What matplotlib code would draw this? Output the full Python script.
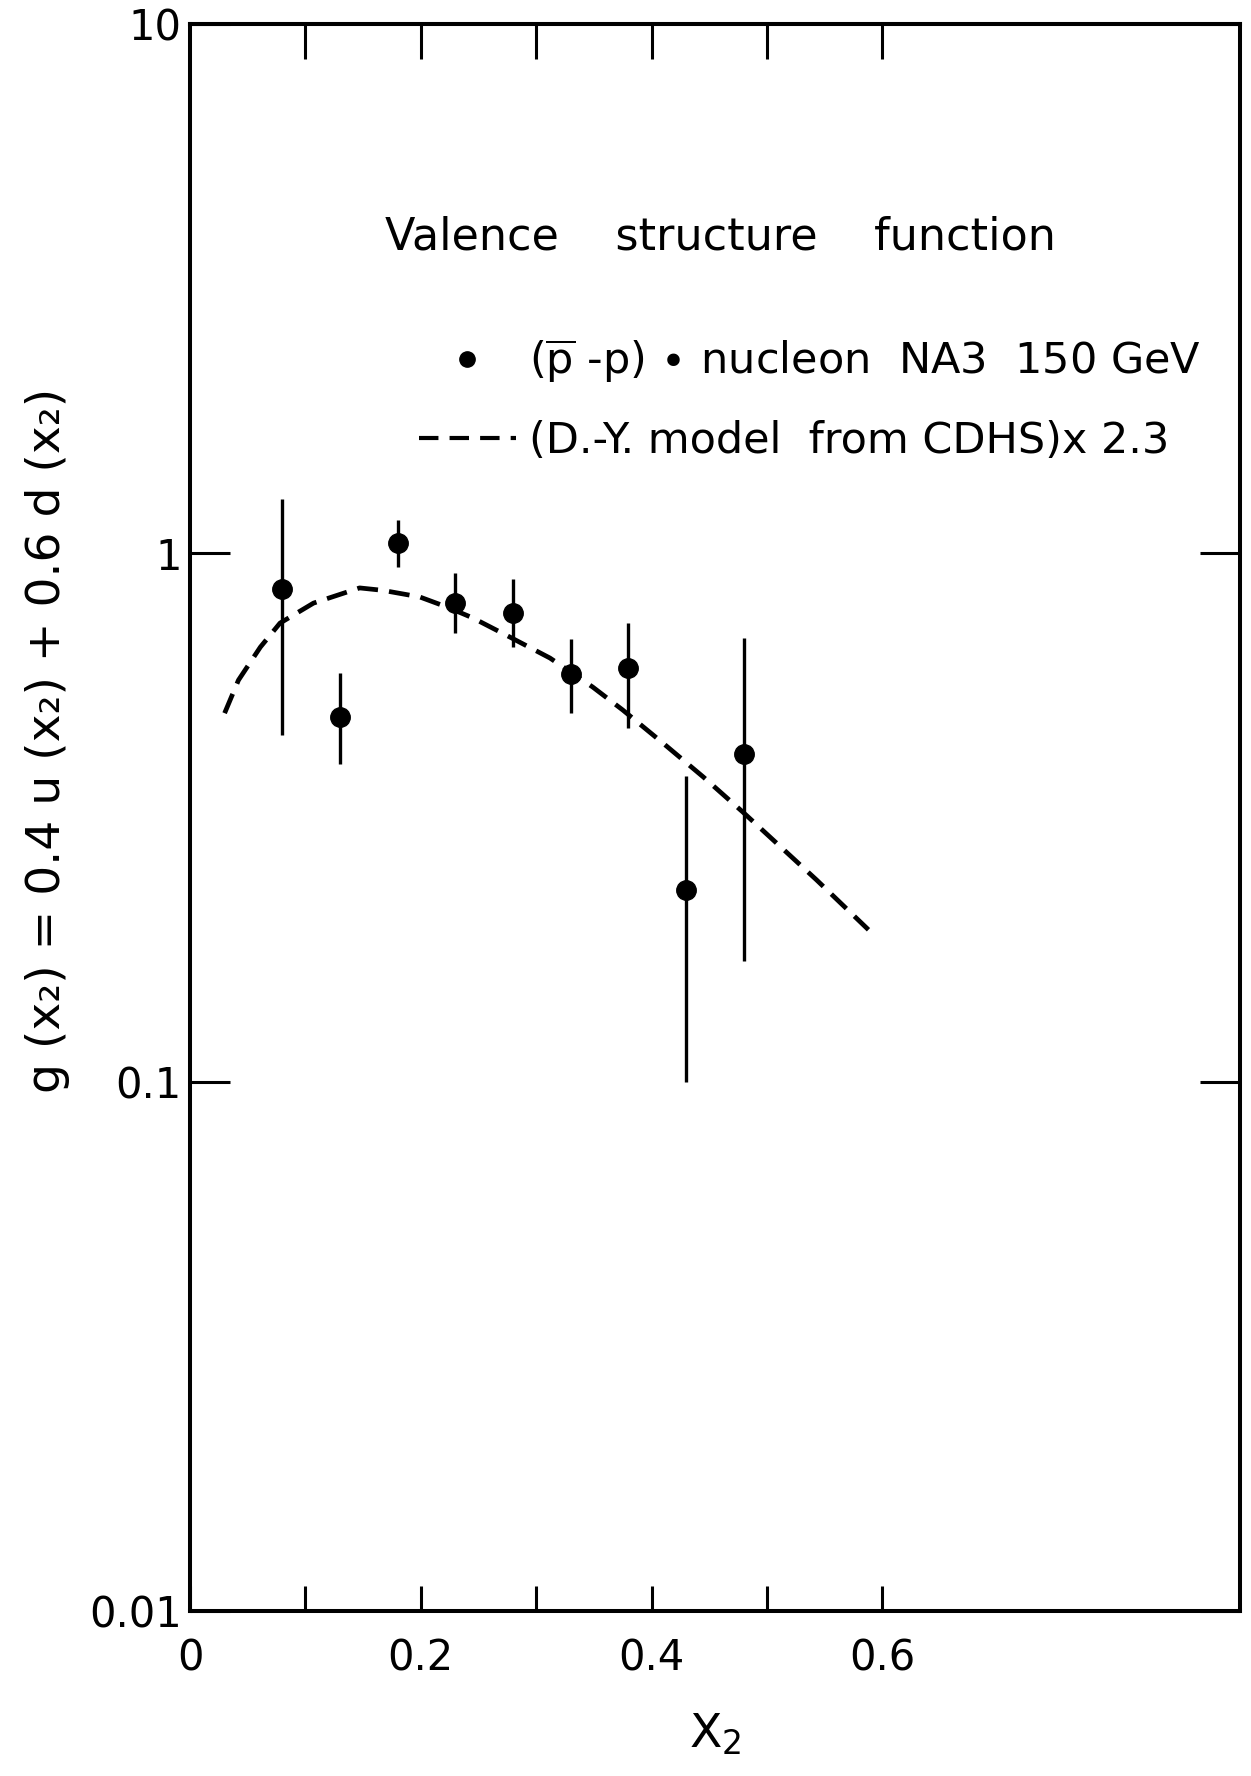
import matplotlib
matplotlib.use("Agg")
import matplotlib.pyplot as plt
from matplotlib.lines import Line2D
from matplotlib.ticker import NullLocator, FixedLocator
import numpy as np

plt.rcParams['font.family'] = ['DejaVu Sans']
plt.rcParams['mathtext.fontset'] = 'dejavusans'
plt.rcParams['lines.scale_dashes'] = False

# ---- data ----
x_data = [0.08, 0.13, 0.18, 0.23, 0.28, 0.33, 0.38, 0.43, 0.48]
g_data = [0.855, 0.490, 1.044, 0.804, 0.770, 0.591, 0.606, 0.231, 0.417]
g_low  = [0.453, 0.399, 0.941, 0.706, 0.664, 0.499, 0.467, 0.100, 0.169]
g_high = [1.265, 0.593, 1.154, 0.917, 0.893, 0.688, 0.737, 0.379, 0.691]

x_model = [0.030, 0.042, 0.061, 0.078, 0.107, 0.147, 0.167, 0.199, 0.223, 0.245,
           0.277, 0.312, 0.349, 0.375, 0.410, 0.445, 0.479, 0.543, 0.588]
g_model = [0.498, 0.575, 0.664, 0.737, 0.804, 0.859, 0.850, 0.826, 0.790, 0.754,
           0.694, 0.633, 0.558, 0.505, 0.437, 0.377, 0.324, 0.241, 0.194]

x_major = [0, 0.2, 0.4, 0.6]
x_major_labels = ['0', '0.2', '0.4', '0.6']
x_minor = [0.1, 0.3, 0.5]
x_top_ticks = [0.1, 0.2, 0.3, 0.4, 0.5, 0.6]
y_ticks = [0.01, 0.1, 1, 10]
y_tick_labels = ['0.01', '0.1', '1', '10']

W, H = 1251, 1776
fig = plt.figure(figsize=(W / 100, H / 100), dpi=100)
ax = fig.add_axes([190 / W, 1 - 1611 / H, 1050 / W, 1587 / H])

ax.set_yscale('log')
ax.set_xlim(0, 0.91)
ax.set_ylim(0.01, 10)

y = np.array(g_data)
yerr = [y - np.array(g_low), np.array(g_high) - y]
ax.errorbar(x_data, g_data, yerr=yerr, fmt='o', color='black', ms=14,
            elinewidth=2.4, capsize=0, zorder=3)
ax.plot(x_model, g_model, color='black', lw=3.4, dashes=(15, 8),
        solid_capstyle='butt', dash_capstyle='butt')

for s in ax.spines.values():
    s.set_linewidth(2.9)

ax.xaxis.set_major_locator(FixedLocator(x_major))
ax.set_xticklabels(x_major_labels)
ax.xaxis.set_minor_locator(FixedLocator(x_minor))
ax.tick_params(axis='x', which='both', direction='in', length=18, width=2.2,
               bottom=True, top=False, labelsize=30, pad=19)

secx = ax.secondary_xaxis('top')
secx.set_xticks(x_top_ticks)
secx.tick_params(axis='x', direction='in', length=25, width=2.2, labeltop=False)
secx.spines['top'].set_linewidth(2.9)

ax.set_yticks(y_ticks)
ax.set_yticklabels(y_tick_labels)
ax.yaxis.set_minor_locator(NullLocator())
ax.tick_params(axis='y', which='major', direction='in', length=29, width=2.2,
               left=True, right=True, labelsize=30, pad=6)

ax.set_xlabel(r'$\mathregular{X_{2}}$', fontsize=34)
ax.xaxis.set_label_coords(0.5, (1611 - 1712) / 1587)
ax.set_ylabel('g (x\u2082) = 0.4 u (x\u2082) + 0.6 d (x\u2082)', fontsize=34,
              va='center')
ax.yaxis.set_label_coords((48 - 190) / 1050, (1611 - 740) / 1587)

fig.text(385 / W, 1 - 237 / H, 'Valence    structure    function',
         fontsize=32, ha='left', va='center')

handles = [Line2D([], [], marker='o', ls='none', color='black', ms=11),
           Line2D([], [], color='black', lw=3.0, dashes=(14, 8))]
labels = [r'($\overline{\mathrm{p}}$ -p) $\bullet$ nucleon  NA3  150 GeV',
          '(D.-Y. model  from CDHS)x 2.3']
leg = fig.legend(handles, labels, loc='upper left',
                 bbox_to_anchor=(419 / W, 1 - 337 / H), frameon=False,
                 fontsize=31, handlelength=2.25, handletextpad=0.3,
                 labelspacing=0.82, borderpad=0, borderaxespad=0)

fig.savefig('out.png', dpi=100)
